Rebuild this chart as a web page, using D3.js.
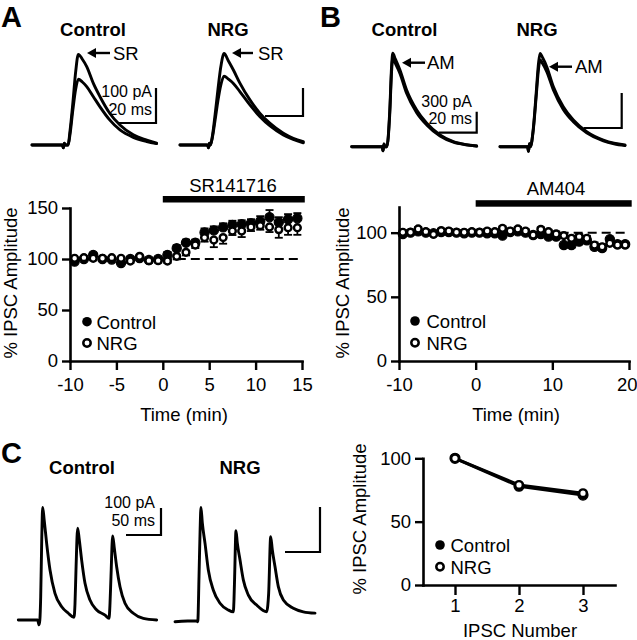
<!DOCTYPE html>
<html><head><meta charset="utf-8">
<script src="https://cdn.jsdelivr.net/npm/d3@7"></script>
<style>
body{margin:0;background:#fff}
svg{display:block}
</style>
</head><body>
<svg id="c" width="637" height="640"></svg>
<script>
// ---------------- DATA ----------------
// Panel A: SR141716 time course
const timeA = [-9.5,-8.5,-7.5,-6.5,-5.5,-4.5,-3.5,-2.5,-1.5,-0.5,0.5,1.5,2.5,3.5,4.5,5.5,6.5,7.5,8.5,9.5,10.5,11.5,12.5,13.5,14.5];
const ctrlA = [97.5,100,104,100,99.5,96,100,101,99,100,104,110.5,116,116,126,128,131,133.5,134,135,137,141,136,139,140];
const ctrlAErr = [2,2,2,2,2,2,2,2,2,2,3,3,3,3,4,4,4,4,4,4,5,7,5,5,5];
const nrgA = [100.7,101.3,100.7,100.7,101.3,100.7,98,102.6,98.4,98.4,98,102.6,106.5,113.7,121,118.6,121,127.5,127.5,131.4,132.7,131.4,128.8,130.7,130.7];
const nrgAErr = [2,2,2,2,2,2,2,2,2,2,2,3,3,3,4,7,6,4,6,4,4,5,8,7,7];
const ticksAx = [-10,-5,0,5,10,15];
const ticksAy = [0,50,100,150];

// Panel B: AM404 time course
const timeB = [-9.5,-8.5,-7.5,-6.5,-5.5,-4.5,-3.5,-2.5,-1.5,-0.5,0.5,1.5,2.5,3.5,4.5,5.5,6.5,7.5,8.5,9.5,10.5,11.5,12.5,13.5,14.5,15.5,16.5,17.5,18.5,19.5];
const ctrlB = [99,100,101,100,99.5,100.5,100.5,100,99.5,100,100,99.5,99.5,97.7,100.5,101,100,98.2,99,97,96.9,90.4,90.4,93,94,89,88,95,91,91];
const ctrlBErr = [1.5,1.5,1.5,1.5,1.5,1.5,1.5,1.5,1.5,1.5,1.5,1.5,1.5,1.5,1.5,1.5,1.5,1.5,1.5,1.5,2,2,2,2,2,2,2,2,2,2];
const nrgB = [100.3,100.3,102.9,100.8,98.7,101.6,101.3,100.3,100.3,100.8,100.3,101.3,100.8,103.4,101.3,102.9,101.3,98.2,102.6,100.8,99,97.7,95.6,96.9,95.6,90.4,89,91.7,90.4,90.4];
const nrgBErr = [1.5,1.5,1.5,1.5,1.5,1.5,1.5,1.5,1.5,1.5,1.5,1.5,1.5,1.5,1.5,1.5,1.5,1.5,1.5,1.5,2,2,2,2,2,2,2,2,2,2];
const ticksBx = [-10,0,10,20];
const ticksBy = [0,50,100];

// Panel C: paired-pulse
const ipscNum = [1,2,3];
const ctrlC = [100,78,71];
const nrgC = [100,79,72.5];
const ticksCx = [1,2,3];
const ticksCy = [0,50,100];

// Example traces (time in ms, current in pA)
const trA_ctrl_t = [0,16,16.5,17,17.6,19,20,21.5,23,24.4,26.5,28.8,32.3,35.8,41,46.3,53.3,60.4,65.6];
const trA_ctrl_sr = [0,0,-8,5,0,0,40,120,210,259,245,224,176,138,90,57,29,14,5];
const trA_ctrl_base = [0,0,-8,5,0,0,30,100,160,188,180,167,138,109,71,43,22,10,4];
const trA_nrg_t = [0,14.5,15,15.5,16,17,18.5,20,21.5,23.2,25.5,28.1,31.6,36.8,42.1,47.4,54.4,59.6,64.9];
const trA_nrg_sr = [0,0,-10,6,0,30,110,200,280,327,300,268,220,161,113,77,42,24,12];
const trA_nrg_base = [0,0,-10,6,0,25,90,160,215,246,235,220,190,143,101,68,36,20,8];

const trB_ctrl_t = [0,16,16.5,17,17.5,18.5,20,21,21.6,23,25.4,28.9,34.2,39.5,46.5,53.5,60,65.8];
const trB_ctrl_am = [0,0,-60,40,0,0,500,1150,1334,1250,1096,810,524,334,167,71,30,10];
const trB_ctrl_base = [0,0,-60,40,0,0,450,1080,1263,1190,1048,763,486,310,153,65,28,10];
const trB_nrg_t = [0,14.5,15,15.5,16,17.5,19,20.3,21.1,22.5,24.6,28.1,33.3,38.6,45.6,54.4,60,65.8];
const trB_nrg_am = [0,0,-40,25,0,150,450,720,800,760,686,514,343,229,129,57,30,15];
const trB_nrg_base = [0,0,-40,25,0,140,420,670,743,710,643,486,320,214,120,50,25,9];

const trC_ctrl_t = [0,27.6,29.6,30.8,32,33.5,34.8,37,40.5,45.3,52.4,62,71.4,79.6,81,82.4,84.8,87,90.5,95.3,102.4,112,123.9,129.6,131,132.4,134.8,137,140.5,145.3,152.4,164.3,178.6,197.7];
const trC_ctrl_i = [0,0,-18,0,86,300,417,370,284,185,99,49,25,10,60,185,340,300,222,136,74,37,18,6,60,160,311,270,197,123,62,25,6,0];
const trC_nrg_t = [0,31,32.5,34.3,35.8,37.1,39,42.9,47.6,54.8,64.3,76.2,83.3,84.3,85.2,87.1,89,92.9,97.6,104.8,116.7,131,132.5,133.8,136.7,139,142.9,147.6,154.8,169,183.3,200];
const trC_nrg_i = [0,2,0,100,200,254,220,174,115,70,41,26,22,50,100,202,175,137,93,59,37,22,35,63,189,160,122,78,48,30,22,19];

// ---------------- DRAWING ----------------
const FONT = "'Liberation Sans', Arial, Helvetica, sans-serif";
const FS = 18.5;
const svg = d3.select("#c");

function txt(x, y, s, o = {}) {
  return svg.append("text").attr("x", x).attr("y", y)
    .attr("font-family", FONT).attr("font-size", o.size || FS)
    .attr("font-weight", o.weight || "normal")
    .attr("text-anchor", o.anchor || "start")
    .attr("fill", "#000").text(s);
}

function trace(t, v, xs, ys) {
  const line = d3.line().x(i => xs(t[i])).y(i => ys(v[i])).curve(d3.curveMonotoneX);
  svg.append("path").attr("d", line(d3.range(t.length)))
    .attr("fill", "none").attr("stroke", "#000").attr("stroke-width", 2.9)
    .attr("stroke-linejoin", "round").attr("stroke-linecap", "round");
}

function scaleBar(cx, cy, hLen, vLen) {
  svg.append("path").attr("d", `M${cx - hLen},${cy}H${cx}V${cy - vLen}`)
    .attr("fill", "none").attr("stroke", "#000").attr("stroke-width", 2.2);
}

function arrow(xTip, y, xEnd) {
  svg.append("line").attr("x1", xTip + 6).attr("x2", xEnd).attr("y1", y).attr("y2", y)
    .attr("stroke", "#000").attr("stroke-width", 2.4);
  svg.append("path").attr("d", `M${xTip},${y}L${xTip + 9},${y - 5}L${xTip + 9},${y + 5}Z`).attr("fill", "#000");
}

// Panel letters & titles
txt(1, 27, "A", {size: 29, weight: "bold"});
txt(320, 27, "B", {size: 29, weight: "bold"});
txt(1, 463, "C", {size: 29, weight: "bold"});
txt(93, 36, "Control", {weight: "bold", anchor: "middle"});
txt(228, 36, "NRG", {weight: "bold", anchor: "middle"});
txt(404.5, 36, "Control", {weight: "bold", anchor: "middle"});
txt(537, 36, "NRG", {weight: "bold", anchor: "middle"});
txt(82, 474, "Control", {weight: "bold", anchor: "middle"});
txt(240, 474, "NRG", {weight: "bold", anchor: "middle"});

// ---- Panel A traces
{
  const xs = d3.scaleLinear().domain([0, 20]).range([32, 70]);
  const ys = d3.scaleLinear().domain([0, 100]).range([145, 110]);
  trace(trA_ctrl_t, trA_ctrl_base, xs, ys);
  trace(trA_ctrl_t, trA_ctrl_sr, xs, ys);
  scaleBar(156, 123, xs(20) - xs(0), ys(0) - ys(100));
  txt(152, 96.5, "100 pA", {size: 16, anchor: "end"});
  txt(152, 115, "20 ms", {size: 16, anchor: "end"});
  arrow(87, 53, 110);
  txt(113, 60, "SR");
  const xn = d3.scaleLinear().domain([0, 20]).range([180, 218]);
  const yn = d3.scaleLinear().domain([0, 100]).range([145, 117]);
  trace(trA_nrg_t, trA_nrg_base, xn, yn);
  trace(trA_nrg_t, trA_nrg_sr, xn, yn);
  scaleBar(303, 116, xn(20) - xn(0), yn(0) - yn(100));
  arrow(232, 53, 253);
  txt(258, 60, "SR");
}
// ---- Panel B traces
{
  const xs = d3.scaleLinear().domain([0, 20]).range([351.7, 389.7]);
  const ys = d3.scaleLinear().domain([0, 300]).range([146.7, 125.7]);
  trace(trB_ctrl_t, trB_ctrl_base, xs, ys);
  trace(trB_ctrl_t, trB_ctrl_am, xs, ys);
  scaleBar(476.7, 132.7, xs(20) - xs(0), ys(0) - ys(300));
  txt(472, 106.5, "300 pA", {size: 16, anchor: "end"});
  txt(472, 124, "20 ms", {size: 16, anchor: "end"});
  arrow(402, 62.7, 425);
  txt(427, 69, "AM");
  const xn = d3.scaleLinear().domain([0, 20]).range([500, 538]);
  const yn = d3.scaleLinear().domain([0, 300]).range([146.7, 111.7]);
  trace(trB_nrg_t, trB_nrg_base, xn, yn);
  trace(trB_nrg_t, trB_nrg_am, xn, yn);
  scaleBar(621.7, 128, xn(20) - xn(0), yn(0) - yn(300));
  arrow(549, 66.7, 572);
  txt(575, 73, "AM");
}
// ---- Panel C traces
{
  const xs = d3.scaleLinear().domain([0, 50]).range([18.3, 53.3]);
  const ys = d3.scaleLinear().domain([0, 100]).range([620, 593]);
  trace(trC_ctrl_t, trC_ctrl_i, xs, ys);
  scaleBar(161, 535, xs(50) - xs(0), ys(0) - ys(100));
  txt(155, 507.5, "100 pA", {size: 16, anchor: "end"});
  txt(155, 526, "50 ms", {size: 16, anchor: "end"});
  const xn = d3.scaleLinear().domain([0, 50]).range([175, 210]);
  const yn = d3.scaleLinear().domain([0, 100]).range([621.7, 576.7]);
  trace(trC_nrg_t, trC_nrg_i, xn, yn);
  scaleBar(320, 552, xn(50) - xn(0), yn(0) - yn(100));
}

// ---- generic scatter panel
const fmt = d => String(d);   // plain hyphen-minus like the reference
function styleAxis(g) {
  g.attr("font-family", FONT).attr("font-size", FS);
  g.select(".domain").attr("stroke-width", 2.6).attr("stroke-linecap", "square");
  g.selectAll(".tick line").attr("stroke-width", 2.4);
  g.selectAll(".tick text").attr("fill", "#000");
}

function axes(x, y, xt, yt, xTickLen, xPad) {
  const x0 = x.range()[0], y0 = y.range()[0];
  const gy = svg.append("g").attr("transform", `translate(${x0},0)`)
    .call(d3.axisLeft(y).tickValues(yt).tickFormat(fmt).tickSize(8).tickSizeOuter(0).tickPadding(4));
  styleAxis(gy);
  const gx = svg.append("g").attr("transform", `translate(0,${y0})`)
    .call(d3.axisBottom(x).tickValues(xt).tickFormat(fmt).tickSize(xTickLen).tickSizeOuter(0).tickPadding(xPad));
  styleAxis(gx);
  return gx;
}

function points(x, y, xs, vs, errs, filled, dir, r) {
  const g = svg.append("g");
  if (errs) {
    xs.forEach((t, i) => {
      const yv = y(vs[i]), ye = y(vs[i] + dir * errs[i]);
      g.append("line").attr("x1", x(t)).attr("x2", x(t)).attr("y1", yv).attr("y2", ye)
        .attr("stroke", "#000").attr("stroke-width", 1.8);
      g.append("line").attr("x1", x(t) - 4).attr("x2", x(t) + 4).attr("y1", ye).attr("y2", ye)
        .attr("stroke", "#000").attr("stroke-width", 1.8);
    });
  }
  g.selectAll("circle").data(xs).join("circle")
    .attr("cx", d => x(d)).attr("cy", (d, i) => y(vs[i]))
    .attr("r", filled ? r + 0.6 : r)
    .attr("fill", filled ? "#000" : "#fff")
    .attr("stroke", "#000").attr("stroke-width", filled ? 1.2 : 2.4);
}

function legend(cx, cy1, cy2, tx) {
  svg.append("circle").attr("cx", cx).attr("cy", cy1).attr("r", 4.8).attr("fill", "#000");
  svg.append("circle").attr("cx", cx).attr("cy", cy2).attr("r", 3.7).attr("fill", "#fff")
    .attr("stroke", "#000").attr("stroke-width", 2.5);
  txt(tx, cy1 + 6.8, "Control");
  txt(tx, cy2 + 6.8, "NRG");
}

function yTitle(x, y, s) {
  svg.append("text").attr("transform", `translate(${x},${y}) rotate(-90)`)
    .attr("font-family", FONT).attr("font-size", FS).attr("text-anchor", "middle").text(s);
}

// ---- Panel A time course
{
  const x = d3.scaleLinear().domain([-10, 15]).range([70, 302]);
  const y = d3.scaleLinear().domain([0, 150]).range([361, 208]);
  svg.append("line").attr("x1", x(0)).attr("x2", x(15)).attr("y1", y(100)).attr("y2", y(100))
    .attr("stroke", "#000").attr("stroke-width", 2).attr("stroke-dasharray", "9,5");
  axes(x, y, ticksAx, ticksAy, 9, 8);
  points(x, y, timeA, ctrlA, ctrlAErr, true, 1, 4);
  points(x, y, timeA, nrgA, nrgAErr, false, -1, 3.4);
  svg.append("rect").attr("x", x(0)).attr("y", 196).attr("width", x(15.3) - x(0)).attr("height", 6.5).attr("fill", "#000");
  txt(233, 191.5, "SR141716", {anchor: "middle"});
  legend(87, 321.7, 343, 96.5);
  yTitle(17, 283, "% IPSC Amplitude");
  txt(184, 421, "Time (min)", {anchor: "middle"});
}
// ---- Panel B time course
{
  const x = d3.scaleLinear().domain([-10, 20]).range([399, 629]);
  const y = d3.scaleLinear().domain([0, 120]).range([361, 207]);
  svg.append("line").attr("x1", x(0)).attr("x2", x(20)).attr("y1", y(100)).attr("y2", y(100))
    .attr("stroke", "#000").attr("stroke-width", 2).attr("stroke-dasharray", "9,5");
  const gx = axes(x, y, ticksBx, ticksBy, 9, 8);
  // the last label sits at the picture's right edge in the reference; keep it inside
  gx.selectAll(".tick text").filter(d => d === 20).attr("text-anchor", "end").attr("x", 8);
  points(x, y, timeB, ctrlB, ctrlBErr, true, -1, 4);
  points(x, y, timeB, nrgB, nrgBErr, false, 1, 3.4);
  svg.append("rect").attr("x", x(0)).attr("y", 200.2).attr("width", x(20.35) - x(0)).attr("height", 6.5).attr("fill", "#000");
  txt(556, 195, "AM404", {anchor: "middle"});
  legend(415, 321, 342.7, 426.5);
  yTitle(348.5, 283, "% IPSC Amplitude");
  txt(516, 421, "Time (min)", {anchor: "middle"});
}
// ---- Panel C summary
{
  const x = d3.scaleLinear().domain([0.5, 3.5]).range([423, 615]);
  const y = d3.scaleLinear().domain([0, 100]).range([585, 458.3]);
  axes(x, y, ticksCx, ticksCy, 10, 4);
  const lc = d3.line().x(i => x(ipscNum[i])).y(i => y(ctrlC[i]));
  const ln = d3.line().x(i => x(ipscNum[i])).y(i => y(nrgC[i]));
  svg.append("path").attr("d", lc(d3.range(ipscNum.length))).attr("fill", "none").attr("stroke", "#000").attr("stroke-width", 3);
  svg.append("path").attr("d", ln(d3.range(ipscNum.length))).attr("fill", "none").attr("stroke", "#000").attr("stroke-width", 3);
  points(x, y, ipscNum, ctrlC, null, true, 1, 4.4);
  points(x, y, ipscNum, nrgC, null, false, 1, 3.8);
  legend(440, 545, 566.7, 450.5);
  yTitle(366, 519, "% IPSC Amplitude");
  txt(520, 636.5, "IPSC Number", {anchor: "middle"});
}
</script>
</body></html>
